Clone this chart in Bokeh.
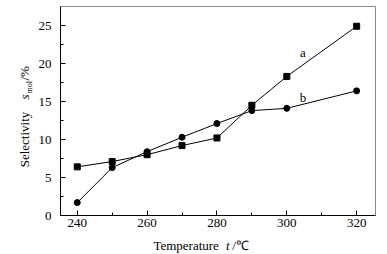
import math
from bokeh.plotting import figure
from bokeh.models import FixedTicker, Label, Range1d
from bokeh.layouts import row, column
from bokeh.embed import file_html
from bokeh.resources import INLINE

# ---- data ----
temps = [240, 250, 260, 270, 280, 290, 300, 320]
series_a = [6.4, 7.1, 8.0, 9.2, 10.2, 14.5, 18.3, 24.9]
series_b = [1.7, 6.3, 8.4, 10.3, 12.1, 13.8, 14.1, 16.4]
x_ticks = [240, 260, 280, 300, 320]
x_minor = [250, 270, 290, 310]
y_ticks = [0, 5, 10, 15, 20, 25]
y_minor = [2.5, 7.5, 12.5, 17.5, 22.5]
x_title = ["Temperature", "t", "/℃"]
y_title = ["Selectivity", "s", "mol", "/%"]

FONT = "'Liberation Serif'"
TOTAL_W, TOTAL_H = 387, 254
YT_W = 35            # width of the y-title strip
XT_H = 21            # height of the x-title strip
PW, PH = TOTAL_W - YT_W, TOTAL_H - XT_H
ML, MR, MT, MB = 23, 12, 6, 18
X0, X1 = 235.2, 325.4
Y0, Y1 = 0.0, 27.5

p = figure(width=PW, height=PH, output_backend="svg", toolbar_location=None,
           x_range=Range1d(X0, X1), y_range=Range1d(Y0, Y1))
p.min_border_left = ML
p.min_border_right = MR
p.min_border_top = MT
p.min_border_bottom = MB
p.background_fill_color = "white"
p.border_fill_color = "white"
p.outline_line_color = "#8a8a8a"
p.outline_line_width = 1
p.grid.visible = False

FL = YT_W + ML
FR = YT_W + PW - MR
FT = MT
FB = PH - MB


def dx(px):
    return X0 + (px - FL) * (X1 - X0) / (FR - FL)


def dy(py):
    return Y0 + (FB - py) * (Y1 - Y0) / (FB - FT)


for ax in (p.xaxis[0], p.yaxis[0]):
    ax.axis_line_color = "black"
    ax.axis_line_width = 1
    ax.major_tick_in = 5
    ax.major_tick_out = 0
    ax.minor_tick_in = 3
    ax.minor_tick_out = 0
    ax.major_tick_line_color = "black"
    ax.minor_tick_line_color = "black"
    ax.major_tick_line_width = 1
    ax.minor_tick_line_width = 1
    ax.major_label_text_font = FONT
    ax.major_label_text_font_size = "13px"
    ax.major_label_text_color = "black"

p.xaxis[0].ticker = FixedTicker(ticks=x_ticks, minor_ticks=x_minor)
p.yaxis[0].ticker = FixedTicker(ticks=y_ticks, minor_ticks=y_minor)
p.xaxis[0].major_label_standoff = 3
p.yaxis[0].major_label_standoff = 9

p.line(temps, series_a, line_color="black", line_width=1)
p.scatter(temps, series_a, marker="square", size=6, fill_color="black", line_color="black")
p.line(temps, series_b, line_color="black", line_width=1)
p.scatter(temps, series_b, marker="circle", size=6, fill_color="black", line_color="black")

p.add_layout(Label(x=dx(302), y=dy(52), text="a", text_font=FONT, text_font_size="13px",
                   text_align="center", text_baseline="middle", text_color="black"))
p.add_layout(Label(x=dx(302), y=dy(97), text="b", text_font=FONT, text_font_size="13px",
                   text_align="center", text_baseline="middle", text_color="black"))


def strip(w, h):
    f = figure(width=w, height=h, output_backend="svg", toolbar_location=None,
               x_range=Range1d(0, w), y_range=Range1d(0, h), min_border=0)
    f.axis.visible = False
    f.grid.visible = False
    f.outline_line_color = None
    f.background_fill_color = "white"
    f.border_fill_color = "white"
    return f


def lab(f, x, y, text, **kw):
    opts = dict(text_font=FONT, text_font_size="13px", text_color="black",
                text_align="left", text_baseline="middle")
    opts.update(kw)
    f.add_layout(Label(x=x, y=y, text=text, **opts))


# y-title strip: page x 0..YT_W, page y 0..254 (data y = 254 - page y)
yt = strip(YT_W, TOTAL_H)
ang = math.pi / 2
lab(yt, 24, TOTAL_H - 139, y_title[0], angle=ang, text_align="center")
lab(yt, 24, TOTAL_H - 99, y_title[1], angle=ang, text_font_style="italic")
lab(yt, 29, TOTAL_H - 93, y_title[2], angle=ang, text_font_size="8px")
lab(yt, 24, TOTAL_H - 80, y_title[3], angle=ang)

# x-title strip: page x YT_W..387, page y PH..254
xt = strip(PW, XT_H)
bl = TOTAL_H - 245   # baseline height inside the strip
lab(xt, 212 - YT_W, bl, x_title[0], text_align="right", text_baseline="alphabetic")
lab(xt, 220 - YT_W, bl, x_title[1], text_font_style="italic", text_baseline="alphabetic")
lab(xt, 227 - YT_W, bl, x_title[2], text_baseline="alphabetic")

layout = row(yt, column(p, xt, spacing=0), spacing=0)
open("out.html", "w").write(file_html(layout, INLINE))
